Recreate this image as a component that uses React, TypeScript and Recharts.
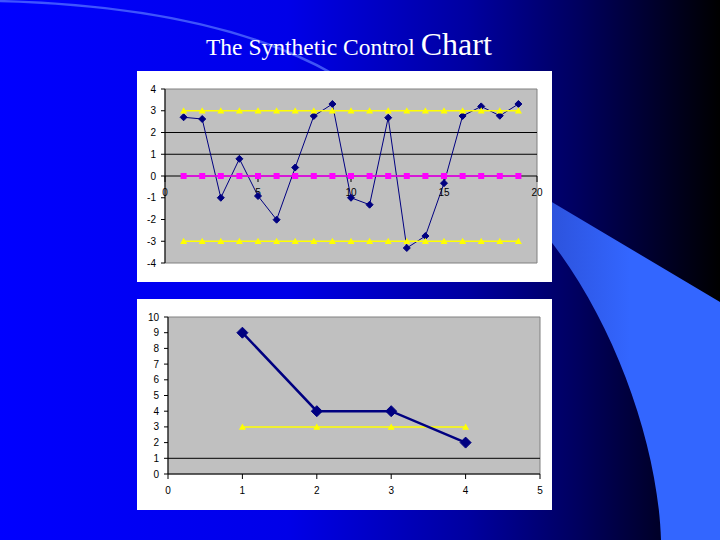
import React from 'react'
import { LineChart, Line, XAxis, YAxis, CartesianGrid, ReferenceLine, ReferenceArea, ReferenceDot } from 'recharts'

// top chart: synthetic control statistic per sample
const samples = [1, 2, 3, 4, 5, 6, 7, 8, 9, 10, 11, 12, 13, 14, 15, 16, 17, 18, 19]
const statistic = [2.7, 2.62, -1.0, 0.79, -0.92, -2.01, 0.39, 2.76, 3.31, -1.0, -1.32, 2.68, -3.31, -2.76, -0.33, 2.76, 3.2, 2.77, 3.31]
const upperLimit = [3, 3, 3, 3, 3, 3, 3, 3, 3, 3, 3, 3, 3, 3, 3, 3, 3, 3, 3]
const centerLine = [0, 0, 0, 0, 0, 0, 0, 0, 0, 0, 0, 0, 0, 0, 0, 0, 0, 0, 0]
const lowerLimit = [-3, -3, -3, -3, -3, -3, -3, -3, -3, -3, -3, -3, -3, -3, -3, -3, -3, -3, -3]
const topYTicks = [-4, -3, -2, -1, 0, 1, 2, 3, 4]
const topXTicks = [0, 5, 10, 15, 20]
const topRefLines = [1, 2]

// bottom chart: conforming run lengths
const runIndex = [1, 2, 3, 4]
const runLength = [9, 4, 4, 2]
const runLimit = [3, 3, 3, 3]
const bottomYTicks = [0, 1, 2, 3, 4, 5, 6, 7, 8, 9, 10]
const bottomXTicks = [0, 1, 2, 3, 4, 5]
const bottomRefLines = [1]

const topData = samples.map((x, i) => ({
  x,
  stat: statistic[i],
  ucl: upperLimit[i],
  cl: centerLine[i],
  lcl: lowerLimit[i],
}))

const bottomData = runIndex.map((x, i) => ({ x, len: runLength[i], lim: runLimit[i] }))

const NAVY = '#000080'
const YELLOW = '#ffff00'
const MAGENTA = '#ff00ff'
const tickStyle = { fontSize: 10, fill: '#000', fontFamily: 'Liberation Sans, Arial, sans-serif' }

const diamond = (r: number) => (props: any) => {
  const { cx, cy, index } = props
  if (cx == null || cy == null) return <g key={`d${index}`} />
  return (
    <path
      key={`d${index}`}
      d={`M${cx},${cy - r}L${cx + r},${cy}L${cx},${cy + r}L${cx - r},${cy}Z`}
      fill={NAVY}
      stroke={NAVY}
    />
  )
}

const triangle = (r: number) => (props: any) => {
  const { cx, cy, index } = props
  if (cx == null || cy == null) return <g key={`t${index}`} />
  return (
    <path
      key={`t${index}`}
      d={`M${cx},${cy - r}L${cx + r},${cy + r * 0.8}L${cx - r},${cy + r * 0.8}Z`}
      fill={YELLOW}
    />
  )
}

const square = (r: number) => (props: any) => {
  const { cx, cy, index } = props
  if (cx == null || cy == null) return <g key={`s${index}`} />
  return <rect key={`s${index}`} x={cx - r} y={cy - r} width={r * 2} height={r * 2} fill={MAGENTA} />
}

// x labels sit on the zero line, Excel style
const ZeroAxisTick = (label: number) => (props: any) => {
  const { cx, cy } = props
  return (
    <g>
      <line x1={cx} x2={cx} y1={cy} y2={cy + 6} stroke="#000" />
      <text x={cx} y={cy + 20} textAnchor="middle" {...tickStyle}>{label}</text>
    </g>
  )
}

function TopChart() {
  return (
    <LineChart width={415} height={211} data={topData} margin={{ top: 18, right: 15, bottom: 19, left: 0 }}>
      <CartesianGrid fill="#c0c0c0" horizontal={false} vertical={false} />
      <ReferenceArea x1={0} x2={20} y1={-4} y2={4} fill="none" stroke="#808080" />
      <XAxis type="number" dataKey="x" domain={[0, 20]} ticks={topXTicks} hide />
      <YAxis
        domain={[-4, 4]}
        ticks={topYTicks}
        interval={0}
        width={28}
        tick={tickStyle}
        tickSize={4}
        tickMargin={5}
        axisLine={{ stroke: '#000' }}
        tickLine={{ stroke: '#000' }}
      />
      {topRefLines.map(v => (
        <ReferenceLine key={v} y={v} stroke="#000" strokeWidth={1} />
      ))}
      <ReferenceLine y={0} stroke="#000" strokeWidth={1} />
      {topXTicks.map(t => (
        <ReferenceDot key={t} x={t} y={0} r={0} shape={ZeroAxisTick(t)} />
      ))}
      <Line dataKey="stat" stroke={NAVY} strokeWidth={1} dot={diamond(3.5)} isAnimationActive={false} />
      <Line dataKey="cl" stroke={MAGENTA} strokeWidth={1.5} dot={square(3)} isAnimationActive={false} />
      <Line dataKey="ucl" stroke={YELLOW} strokeWidth={1.5} dot={triangle(3.5)} isAnimationActive={false} />
      <Line dataKey="lcl" stroke={YELLOW} strokeWidth={1.5} dot={triangle(3.5)} isAnimationActive={false} />
    </LineChart>
  )
}

function BottomChart() {
  return (
    <LineChart width={415} height={211} data={bottomData} margin={{ top: 18, right: 12, bottom: 0, left: 0 }}>
      <CartesianGrid fill="#c0c0c0" horizontal={false} vertical={false} />
      <ReferenceArea x1={0} x2={5} y1={0} y2={10} fill="none" stroke="#808080" />
      <XAxis
        type="number"
        dataKey="x"
        domain={[0, 5]}
        ticks={bottomXTicks}
        interval={0}
        height={36}
        tick={tickStyle}
        tickSize={5}
        tickMargin={8}
        axisLine={{ stroke: '#000' }}
        tickLine={{ stroke: '#000' }}
      />
      <YAxis
        domain={[0, 10]}
        ticks={bottomYTicks}
        interval={0}
        width={31}
        tick={tickStyle}
        tickSize={4}
        tickMargin={5}
        axisLine={{ stroke: '#000' }}
        tickLine={{ stroke: '#000' }}
      />
      {bottomRefLines.map(v => (
        <ReferenceLine key={v} y={v} stroke="#000" strokeWidth={1} />
      ))}
      <Line dataKey="lim" stroke={YELLOW} strokeWidth={1.5} dot={triangle(3.5)} isAnimationActive={false} />
      <Line dataKey="len" stroke={NAVY} strokeWidth={2.5} dot={diamond(5.5)} isAnimationActive={false} />
    </LineChart>
  )
}

export default function App() {
  return (
    <div style={{ position: 'absolute', left: 0, top: 0, width: 720, height: 540, overflow: 'hidden' }}>
      <svg width={720} height={540} style={{ position: 'absolute', left: 0, top: 0 }}>
        <defs>
          <linearGradient id="bg" x1="0" y1="0" x2="1" y2="0">
            <stop offset="0%" stopColor="#0000ff" />
            <stop offset="40%" stopColor="#0000e8" />
            <stop offset="65%" stopColor="#0000a0" />
            <stop offset="80%" stopColor="#000060" />
            <stop offset="100%" stopColor="#000000" />
          </linearGradient>
          <linearGradient id="swoosh" x1="0" y1="0" x2="1" y2="0">
            <stop offset="0%" stopColor="#2c50d8" />
            <stop offset="50%" stopColor="#3366ff" />
            <stop offset="100%" stopColor="#3366ff" />
          </linearGradient>
        </defs>
        <rect x={0} y={0} width={720} height={540} fill="url(#bg)" />
        <path d="M540,195 L720,302 L720,540 L661,540 C658,440 610,310 540,228 Z" fill="url(#swoosh)" />
        <path d="M-5,1 Q215,6 335,75" fill="none" stroke="#5a78ff" strokeWidth={2.5} opacity={0.7} />
        <text x={206} y={55} fill="#fff" fontFamily="Liberation Serif, Times New Roman, serif">
          <tspan fontSize={23.5}>The Synthetic Control </tspan>
          <tspan fontSize={32}>Chart</tspan>
        </text>
      </svg>
      <div style={{ position: 'absolute', left: 137, top: 71, background: '#fff' }}>
        <TopChart />
      </div>
      <div style={{ position: 'absolute', left: 137, top: 299, background: '#fff' }}>
        <BottomChart />
      </div>
    </div>
  )
}
